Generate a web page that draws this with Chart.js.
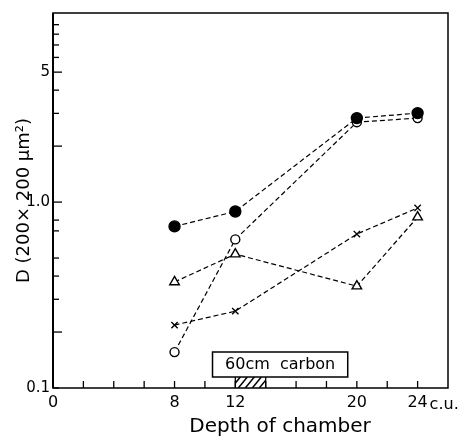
<!DOCTYPE html>
<html><head><meta charset="utf-8">
<script src="https://cdn.jsdelivr.net/npm/chart.js@4"></script>
<style>html,body{margin:0;padding:0;background:#fff}#wrap{width:463px;height:439px}</style>
</head><body><div id="wrap"><canvas id="c" width="463" height="439"></canvas></div>
<script>
const depths = [8, 12, 20, 24];
const filledCircle = [0.74, 0.89, 2.83, 3.01];
const openCircle = [0.156, 0.63, 2.69, 2.83];
const triangle = [0.372, 0.525, 0.353, 0.83];
const cross = [0.218, 0.259, 0.673, 0.93];
const xTickValues = [0, 2, 4, 6, 8, 10, 12, 14, 16, 18, 20, 22, 24];
const xTickLabels = {0: '0', 8: '8', 12: '12', 20: '20', 24: '24'};
const yTickValues = [0.1, 0.2, 0.3, 0.4, 0.5, 0.7, 0.8, 1, 2, 3, 4, 5, 6, 7, 8, 9];
const yLongTicks = [0.2, 1, 2, 5];
const yTickLabels = {0.1: '0.1', 1: '1.0', 5: '5'};
const carbonRange = [12, 14];
const carbonLabel = '60cm  carbon';
const xTitle = 'Depth of chamber';
const yTitle = 'D (200× 200 μm²)';
const unitLabel = 'c.u.';

const FONT = "'DejaVu Sans', sans-serif";
const pts = arr => depths.map((d, i) => ({x: d, y: arr[i]}));
const base = {borderColor: '#000', borderWidth: 1.2, borderDash: [5, 3], showLine: true, fill: false, pointBorderColor: '#000', pointBorderWidth: 1.4};

const decor = {
  id: 'decor',
  afterDraw(chart) {
    const {ctx, chartArea: a, scales: {x, y}} = chart;
    ctx.save();
    ctx.strokeStyle = '#000';
    ctx.fillStyle = '#000';
    ctx.lineWidth = 1.3;
    yTickValues.forEach(v => {
      const py = y.getPixelForValue(v);
      const len = yLongTicks.includes(v) ? 9 : 6;
      ctx.beginPath(); ctx.moveTo(a.left, py); ctx.lineTo(a.left + len, py); ctx.stroke();
    });
    xTickValues.forEach(v => {
      const px = x.getPixelForValue(v);
      ctx.beginPath(); ctx.moveTo(px, a.bottom); ctx.lineTo(px, a.bottom - 7); ctx.stroke();
    });
    ctx.lineWidth = 1.5;
    ctx.strokeRect(a.left, a.top, a.right - a.left, a.bottom - a.top);
    ctx.lineWidth = 2;
    ctx.beginPath(); ctx.moveTo(a.left, a.top); ctx.lineTo(a.left, a.bottom); ctx.stroke();
    const hx0 = x.getPixelForValue(carbonRange[0]);
    const hx1 = x.getPixelForValue(carbonRange[1]);
    const hy0 = a.bottom - 11, hy1 = a.bottom;
    ctx.lineWidth = 1.3;
    ctx.beginPath(); ctx.moveTo(hx0, hy0); ctx.lineTo(hx0, hy1); ctx.moveTo(hx1, hy0); ctx.lineTo(hx1, hy1); ctx.stroke();
    ctx.save();
    ctx.beginPath(); ctx.rect(hx0, hy0, hx1 - hx0, hy1 - hy0); ctx.clip();
    ctx.lineWidth = 1.5;
    for (let sx = hx0 - 4; sx < hx1 + 12; sx += 7) {
      ctx.beginPath(); ctx.moveTo(sx, hy1); ctx.lineTo(sx + 9, hy0); ctx.stroke();
    }
    ctx.restore();
    const bx0 = x.getPixelForValue(10.5), bx1 = x.getPixelForValue(19.4);
    const by0 = hy0 - 25;
    ctx.fillStyle = '#fff';
    ctx.fillRect(bx0, by0, bx1 - bx0, hy0 - by0);
    ctx.lineWidth = 1.5;
    ctx.strokeRect(bx0, by0, bx1 - bx0, hy0 - by0);
    ctx.fillStyle = '#000';
    ctx.font = '16px ' + FONT;
    ctx.textAlign = 'center'; ctx.textBaseline = 'middle';
    ctx.fillText(carbonLabel, (bx0 + bx1) / 2, (by0 + hy0) / 2);
    ctx.textAlign = 'left';
    ctx.fillText(unitLabel, x.getPixelForValue(24) + 12, a.bottom + 17);
    ctx.font = '20px ' + FONT;
    ctx.textAlign = 'center';
    ctx.fillText(xTitle, 280, 427);
    ctx.restore();
  }
};

new Chart(document.getElementById('c'), {
  type: 'scatter',
  data: {datasets: [
    Object.assign({label: 'filled', data: pts(filledCircle), pointStyle: 'circle', pointRadius: 5.5, pointBackgroundColor: '#000'}, base),
    Object.assign({label: 'open', data: pts(openCircle), pointStyle: 'circle', pointRadius: 4.5, pointBackgroundColor: '#fff'}, base),
    Object.assign({label: 'triangle', data: pts(triangle), pointStyle: 'triangle', pointRadius: 5.5, pointBackgroundColor: '#fff'}, base),
    Object.assign({label: 'cross', data: pts(cross), pointStyle: 'crossRot', pointRadius: 4.5, pointBackgroundColor: '#fff'}, base)
  ]},
  options: {
    responsive: false, animation: false,
    layout: {padding: {top: 13, right: 15, left: 0, bottom: 0}},
    plugins: {legend: {display: false}, tooltip: {enabled: false}},
    scales: {
      x: {
        type: 'linear', min: 0, max: 26,
        afterFit: s => { s.height = 51; },
        afterBuildTicks: s => { s.ticks = xTickValues.map(v => ({value: v})); },
        grid: {display: false, drawTicks: false},
        border: {display: false},
        ticks: {autoSkip: false, maxRotation: 0, padding: 5, color: '#000', font: {family: FONT, size: 16},
          callback: v => (xTickLabels[v] !== undefined ? xTickLabels[v] : '')}
      },
      y: {
        type: 'logarithmic', min: 0.1, max: 10.4,
        afterFit: s => { s.width = 53; },
        afterBuildTicks: s => { s.ticks = yTickValues.map(v => ({value: v})); },
        grid: {display: false, drawTicks: false},
        border: {display: false},
        ticks: {autoSkip: false, padding: 3, color: '#000', font: {family: FONT, size: 15},
          callback: v => { const k = Math.round(v * 10) / 10; return yTickLabels[k] !== undefined ? yTickLabels[k] : ''; }},
        title: {display: true, text: yTitle, color: '#000', font: {family: FONT, size: 18}, padding: {top: 14, bottom: 0}}
      }
    }
  },
  plugins: [decor]
});
</script></body></html>
